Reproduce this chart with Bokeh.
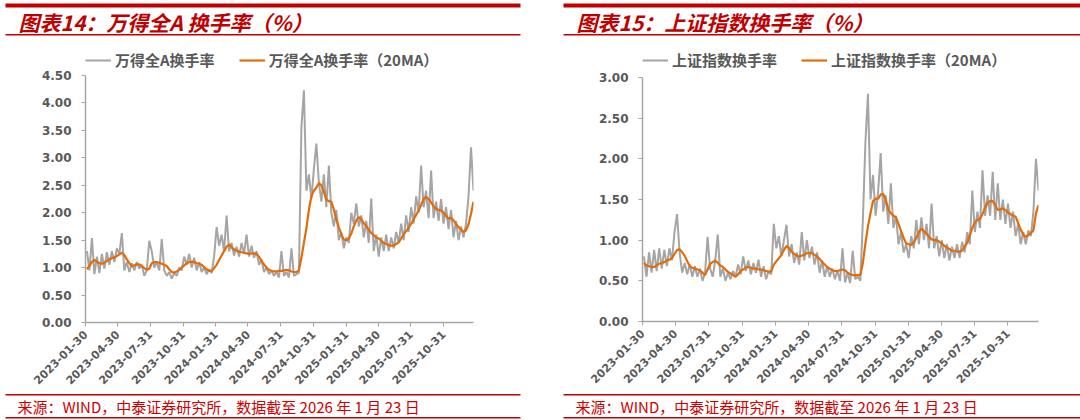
import math
import pandas as pd
from bokeh.plotting import figure
from bokeh.layouts import row, column
from bokeh.models import (Range1d, FixedTicker, NumeralTickFormatter, DatetimeTickFormatter,
                          Legend, LegendItem, ColumnDataSource)
from bokeh.core.properties import value
from bokeh.embed import file_html
from bokeh.resources import INLINE

# ---------------- data ----------------
week_dates = pd.date_range("2023-02-03", periods=156, freq="7D")
x_start = "2023-01-30"
x_end = "2026-01-23"
tick_labels = ["2023-01-30", "2023-04-30", "2023-07-31", "2023-10-31",
               "2024-01-31", "2024-04-30", "2024-07-31", "2024-10-31",
               "2025-01-31", "2025-04-30", "2025-07-31", "2025-10-31"]

wind_a = [1.30, 0.95, 1.54, 0.88, 1.20, 0.90, 1.25, 0.98, 1.28, 1.05,
          1.30, 1.10, 1.35, 1.25, 1.63, 0.95, 1.10, 0.92, 1.08, 0.95,
          1.10, 0.98, 1.05, 0.85, 0.95, 1.49, 1.30, 1.00, 1.10, 0.95,
          1.52, 0.95, 0.85, 0.92, 0.80, 0.90, 0.85, 1.00, 0.95, 1.20,
          1.05, 1.25, 1.00, 1.18, 0.95, 1.10, 0.92, 1.00, 0.88, 0.97,
          0.90, 1.20, 1.74, 1.40, 1.60, 1.30, 1.95, 1.30, 1.45, 1.22,
          1.38, 1.20, 1.45, 1.25, 1.60, 1.20, 1.40, 1.18, 1.30, 1.05,
          1.15, 0.92, 1.00, 0.88, 0.95, 0.85, 0.92, 0.82, 1.30, 0.85,
          0.92, 0.82, 1.35, 0.85, 0.88, 0.90, 3.56, 4.23, 2.40, 2.70,
          2.25, 2.80, 3.26, 2.55, 2.20, 2.70, 2.10, 2.86, 2.00, 1.75,
          2.05, 1.50, 1.65, 1.35, 1.55, 1.45, 2.00, 1.80, 2.17, 1.75,
          1.95, 1.55, 1.85, 1.45, 2.26, 1.30, 1.60, 1.20, 1.55, 1.30,
          1.60, 1.30, 1.55, 1.35, 1.65, 1.45, 1.80, 1.50, 1.95, 1.65,
          2.10, 1.80, 2.30, 2.00, 2.86, 2.10, 2.40, 1.90, 2.77, 1.90,
          2.20, 1.85, 2.25, 1.80, 2.10, 1.70, 2.05, 1.55, 1.85, 1.50,
          1.75, 1.55, 1.80, 2.30, 3.19, 2.40]

wind_a_ma20 = [0.97, 1.03, 1.10, 1.14, 1.11, 1.08, 1.07, 1.09, 1.12, 1.15,
               1.17, 1.19, 1.21, 1.24, 1.27, 1.23, 1.15, 1.08, 1.03, 1.04,
               1.06, 1.06, 1.03, 0.99, 0.96, 0.98, 1.08, 1.10, 1.10, 1.09,
               1.07, 1.05, 1.03, 0.97, 0.92, 0.91, 0.93, 0.96, 1.00, 1.04,
               1.08, 1.10, 1.11, 1.10, 1.08, 1.07, 1.05, 1.01, 0.97, 0.94,
               0.94, 0.99, 1.05, 1.14, 1.22, 1.30, 1.38, 1.42, 1.37, 1.33,
               1.31, 1.29, 1.28, 1.27, 1.26, 1.25, 1.26, 1.26, 1.25, 1.20,
               1.12, 1.06, 1.00, 0.96, 0.94, 0.93, 0.93, 0.94, 0.94, 0.95,
               0.96, 0.95, 0.93, 0.92, 0.92, 0.95, 1.18, 1.45, 1.72, 2.05,
               2.30, 2.40, 2.46, 2.54, 2.50, 2.38, 2.24, 2.21, 2.20, 2.06,
               1.88, 1.74, 1.61, 1.51, 1.50, 1.53, 1.62, 1.75, 1.86, 1.92,
               1.88, 1.81, 1.76, 1.69, 1.63, 1.59, 1.55, 1.53, 1.49, 1.45,
               1.43, 1.41, 1.40, 1.40, 1.43, 1.46, 1.53, 1.61, 1.66, 1.73,
               1.80, 1.88, 1.96, 2.04, 2.14, 2.25, 2.29, 2.25, 2.19, 2.12,
               2.07, 2.05, 2.04, 2.00, 1.94, 1.89, 1.91, 1.86, 1.79, 1.74,
               1.69, 1.65, 1.68, 1.79, 1.98, 2.20]

sh_index = [0.80, 0.55, 0.85, 0.60, 0.88, 0.62, 0.90, 0.65, 0.88, 0.68,
            0.90, 0.75, 1.10, 1.32, 0.85, 0.60, 0.72, 0.58, 0.70, 0.55,
            0.68, 0.55, 0.65, 0.50, 0.60, 1.04, 0.65, 0.55, 0.75, 1.07,
            0.55, 0.65, 0.50, 0.60, 0.52, 0.62, 0.55, 0.70, 0.58, 0.80,
            0.62, 0.75, 0.58, 0.72, 0.60, 0.76, 0.55, 0.68, 0.52, 0.62,
            0.58, 1.20, 0.90, 1.05, 0.80, 1.00, 1.19, 0.80, 0.95, 0.72,
            0.85, 0.70, 1.10, 0.75, 1.00, 0.78, 0.92, 0.70, 0.85, 0.60,
            0.75, 0.55, 0.68, 0.55, 0.65, 0.52, 0.62, 0.50, 0.90, 0.48,
            0.60, 0.47, 0.87, 0.52, 0.55, 0.50, 1.24, 2.20, 2.80, 1.50,
            1.80, 1.30, 1.60, 2.07, 1.35, 1.55, 1.20, 1.70, 1.15, 1.30,
            0.95, 1.10, 0.85, 0.95, 0.78, 1.05, 0.90, 1.25, 0.95, 1.28,
            1.00, 1.20, 0.90, 1.45, 0.90, 1.05, 0.80, 1.00, 0.78, 0.95,
            0.75, 0.92, 0.78, 0.95, 0.78, 0.98, 0.85, 1.10, 0.95, 1.61,
            1.10, 1.35, 1.15, 1.86, 1.30, 1.55, 1.30, 1.84, 1.25, 1.70,
            1.25, 1.50, 1.20, 1.45, 1.15, 1.35, 1.05, 1.20, 0.95, 1.10,
            0.95, 1.12, 1.05, 1.35, 2.00, 1.61]

sh_index_ma20 = [0.72, 0.69, 0.68, 0.67, 0.67, 0.69, 0.71, 0.72, 0.73, 0.75,
                 0.76, 0.78, 0.83, 0.88, 0.89, 0.85, 0.81, 0.74, 0.68, 0.66,
                 0.65, 0.64, 0.63, 0.60, 0.57, 0.64, 0.71, 0.73, 0.75, 0.72,
                 0.69, 0.67, 0.64, 0.61, 0.59, 0.57, 0.55, 0.58, 0.62, 0.64,
                 0.66, 0.67, 0.66, 0.65, 0.65, 0.64, 0.64, 0.63, 0.62, 0.61,
                 0.62, 0.70, 0.74, 0.78, 0.82, 0.88, 0.93, 0.90, 0.86, 0.83,
                 0.81, 0.80, 0.81, 0.82, 0.84, 0.84, 0.84, 0.82, 0.80, 0.77,
                 0.73, 0.70, 0.67, 0.65, 0.63, 0.62, 0.62, 0.63, 0.64, 0.63,
                 0.60, 0.58, 0.57, 0.57, 0.57, 0.57, 0.72, 0.96, 1.17, 1.33,
                 1.48, 1.51, 1.51, 1.56, 1.57, 1.49, 1.38, 1.33, 1.30, 1.28,
                 1.20, 1.11, 1.03, 0.96, 0.95, 0.94, 0.97, 1.03, 1.10, 1.14,
                 1.11, 1.08, 1.04, 1.01, 1.00, 1.00, 0.98, 0.96, 0.93, 0.91,
                 0.89, 0.87, 0.87, 0.86, 0.86, 0.87, 0.92, 0.97, 1.06, 1.15,
                 1.22, 1.25, 1.26, 1.32, 1.40, 1.46, 1.48, 1.48, 1.43, 1.37,
                 1.38, 1.39, 1.37, 1.34, 1.32, 1.30, 1.29, 1.21, 1.13, 1.07,
                 1.04, 1.06, 1.09, 1.12, 1.33, 1.43]

left_title = "图表14：万得全A 换手率（%）"
right_title = "图表15：上证指数换手率（%）"
left_names = ["万得全A换手率", "万得全A换手率（20MA）"]
right_names = ["上证指数换手率", "上证指数换手率（20MA）"]
source_text = "来源：WIND，中泰证券研究所，数据截至 2026 年 1 月 23 日"

RED = "#C00000"
GRAY_LINE = "#A5A5A5"
ORANGE = "#E36C09"
TXT = "#595959"
CJK = "Noto Sans CJK SC"
W = 540
TOP_H, MAIN_H, BOT_H = 40, 350, 30


def strip(height):
    s = figure(width=W, height=height, x_range=Range1d(0, W), y_range=Range1d(height, 0),
               output_backend="svg", toolbar_location=None,
               x_axis_location=None, y_axis_location=None,
               min_border_left=0, min_border_right=0,
               min_border_top=0, min_border_bottom=0)
    s.frame_align = False
    s.outline_line_color = None
    s.grid.visible = False
    return s


def top_strip(title, x0, x1):
    s = strip(TOP_H)
    s.quad(left=[x0, x0], right=[x1, x1], top=[3, 33.5], bottom=[7, 35],
           fill_color=RED, line_color=None)
    s.text(x=[x0 + 13], y=[21], text=[title], text_font=value(CJK),
           text_font_size="21px", text_font_style="bold italic",
           text_color=RED, text_baseline="middle", text_align="left")
    return s


def bottom_strip(x0, x1):
    s = strip(BOT_H)
    s.quad(left=[x0, x0], right=[x1, x1], top=[3.5, 26.5], bottom=[5, 28],
           fill_color=RED, line_color=None)
    s.text(x=[x0 + 12], y=[16], text=[source_text], text_font=value(CJK),
           text_font_size="15px", text_color="#D00000",
           text_baseline="middle", text_align="left")
    return s


def main_panel(raw, ma, names, y_max, axis_x, axis_right, y_top_px, y_zero_px):
    frame_top = 45            # frame starts above the y axis top, room for the legend
    px_per_unit = (y_zero_px - y_top_px) / y_max
    y_end = y_max + (y_top_px - frame_top) / px_per_unit
    t0, t1 = pd.Timestamp(x_start), pd.Timestamp(x_end)
    ms0 = t0.value / 1e6
    ms1 = t1.value / 1e6

    p = figure(width=W, height=MAIN_H, x_axis_type="datetime",
               output_backend="svg", toolbar_location=None,
               x_range=Range1d(ms0, ms1), y_range=Range1d(0, y_end),
               min_border_left=axis_x, min_border_right=W - axis_right,
               min_border_top=frame_top - TOP_H,
               min_border_bottom=TOP_H + MAIN_H - y_zero_px)
    p.frame_align = False
    p.outline_line_color = None
    p.grid.visible = False

    src = ColumnDataSource(dict(d=week_dates, raw=raw, ma=ma))
    r1 = p.line("d", "raw", source=src, line_color=GRAY_LINE, line_width=2)
    r2 = p.line("d", "ma", source=src, line_color=ORANGE, line_width=2.2)

    tick_ms = [pd.Timestamp(t).value / 1e6 for t in tick_labels]
    p.xaxis.ticker = FixedTicker(ticks=tick_ms)
    p.xaxis.formatter = DatetimeTickFormatter(days="%Y-%m-%d", months="%Y-%m-%d",
                                              years="%Y-%m-%d")
    p.xaxis.major_label_overrides = {ms: lab for ms, lab in zip(tick_ms, tick_labels)}
    p.xaxis.major_label_orientation = math.pi / 4
    p.yaxis.ticker = FixedTicker(ticks=[i * 0.5 for i in range(int(y_max / 0.5) + 1)])
    p.yaxis.formatter = NumeralTickFormatter(format="0.00")
    p.yaxis.bounds = (0, y_max)
    for ax in (p.xaxis[0], p.yaxis[0]):
        ax.axis_line_color = "#A6A6A6"
        ax.axis_line_width = 1.5
        ax.major_tick_line_color = "#A6A6A6"
        ax.major_tick_line_width = 1
        ax.major_tick_out = 4
        ax.major_tick_in = 0
        ax.minor_tick_line_color = None
        ax.major_label_text_font = "DejaVu Sans"
        ax.major_label_text_font_style = "bold"
        ax.major_label_text_color = TXT
    p.yaxis.major_label_text_font_size = "12px"
    p.yaxis.major_label_standoff = 10
    p.xaxis.major_label_text_font_size = "11px"
    p.xaxis.major_label_standoff = 6

    legend = Legend(items=[LegendItem(label=names[0], renderers=[r1]),
                           LegendItem(label=names[1], renderers=[r2])],
                    orientation="horizontal",
                    location=(0, y_zero_px - 70),
                    border_line_alpha=0, background_fill_alpha=0,
                    padding=0, margin=0, spacing=24,
                    glyph_width=26, glyph_height=20, label_standoff=4,
                    label_text_font=CJK, label_text_font_size="15px",
                    label_text_font_style="bold", label_text_color=TXT)
    p.add_layout(legend)
    return p


left = column(top_strip(left_title, 5, 520),
              main_panel(wind_a, wind_a_ma20, left_names, 4.5, 85, 473, 75, 322),
              bottom_strip(5, 520))
right = column(top_strip(right_title, 23, 540),
               main_panel(sh_index, sh_index_ma20, right_names, 3.0,
                          642 - W, 1038 - W, 77, 321),
               bottom_strip(23, 540))

layout = row(left, right)
open("out.html", "w").write(file_html(layout, INLINE))
